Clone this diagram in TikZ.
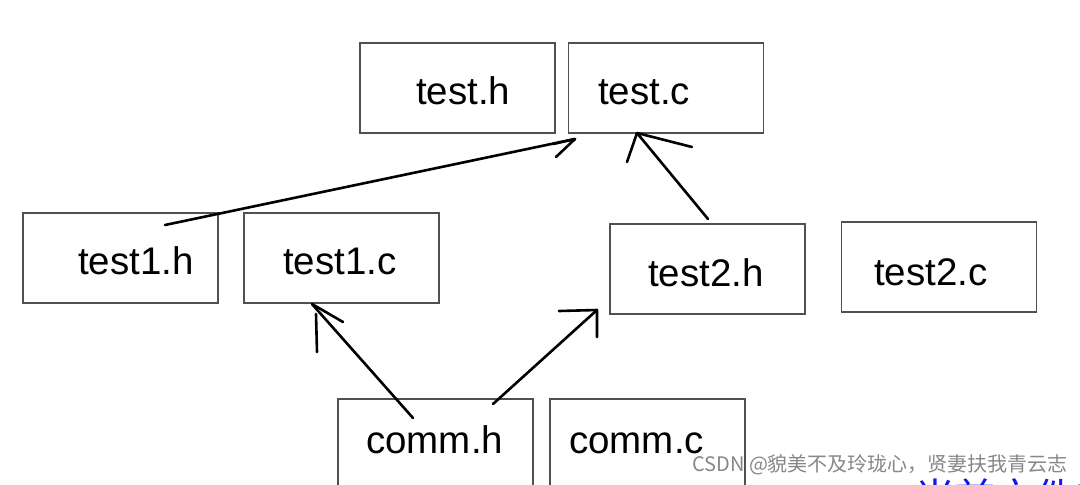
\documentclass[tikz,border=0pt]{standalone}
\usepackage{fontspec}
\setmainfont{Liberation Sans}
\newfontfamily\cjk{Noto Sans CJK SC}
\definecolor{boxgray}{RGB}{80,80,80}
\definecolor{wmgray}{RGB}{135,135,135}
\definecolor{inkblue}{RGB}{20,20,240}
\begin{document}
\begin{tikzpicture}[x=1pt,y=-1pt,
  filebox/.style={draw=boxgray, line width=1.8pt, inner sep=0pt,
    minimum width=195pt, minimum height=90pt},
  lbl/.style={anchor=base west, inner sep=0pt, font=\fontsize{38.5}{40}\selectfont},
  ink/.style={draw=black, line width=2.6pt, line cap=round, line join=round}]
\useasboundingbox (0,0) rectangle (1080,485);
\clip (0,0) rectangle (1080,485);
\fill[white] (0,0) rectangle (1080,485);

% boxes
\node[filebox] (th)  at (457.5,88)  {};
\node[filebox] (tc)  at (666,88)    {};
\node[filebox] (t1h) at (120.5,258) {};
\node[filebox] (t1c) at (341.5,258) {};
\node[filebox] (t2h) at (707.5,269) {};
\node[filebox] (t2c) at (939,267)   {};
\node[filebox] (ch)  at (435.5,444) {};
\node[filebox] (cc)  at (647.5,444) {};

% labels
\node[lbl] (thl)  at (416,104) {test.h};
\node[lbl] (tcl)  at (598,104) {test.c};
\node[lbl] (t1hl) at (78,274)  {test1.h};
\node[lbl] (t1cl) at (283,274) {test1.c};
\node[lbl] (t2hl) at (648,286) {test2.h};
\node[lbl] (t2cl) at (874,285) {test2.c};
\node[lbl] (chl)  at (366,453) {comm.h};
\node[lbl] (ccl)  at (569,453) {comm.c};

% connector ends
\coordinate (a1s) at (165,225);
\coordinate (a1e) at (575,139);
\coordinate (a2s) at (708,219);
\coordinate (a2e) at (637,133);
\coordinate (a3s) at (413,418);
\coordinate (a3e) at (312,304);
\coordinate (a4s) at (493,404);
\coordinate (a4e) at (597,310);

% hand-drawn arrows
\draw[ink] (a1s) -- (a1e);
\draw[ink] (a1e) -- (553,144);
\draw[ink] (a1e) -- (556,157);

\draw[ink] (a2s) -- (a2e);
\draw[ink] (a2e) -- (627,162);
\draw[ink] (a2e) -- (692,147);

\draw[ink] (a3s) -- (a3e);
\draw[ink] (a3e) -- (343,322);
\draw[ink] (316,314) -- (317,352);

\draw[ink] (a4s) -- (a4e);
\draw[ink] (559,311) -- (a4e) -- (597,337);

% blue text cut off at the bottom, as in the reference
\node[anchor=base west, inner sep=0pt, text=inkblue,
  font=\cjk\fontsize{40}{40}\selectfont] (blue) at (915,512) {当前文件夹};

% watermark
\node[anchor=base west, inner sep=0pt, text=wmgray,
  font=\cjk\fontsize{20}{20}\selectfont] (wm) at (692,471) {CSDN @貌美不及玲珑心，贤妻扶我青云志};
\end{tikzpicture}
\end{document}
